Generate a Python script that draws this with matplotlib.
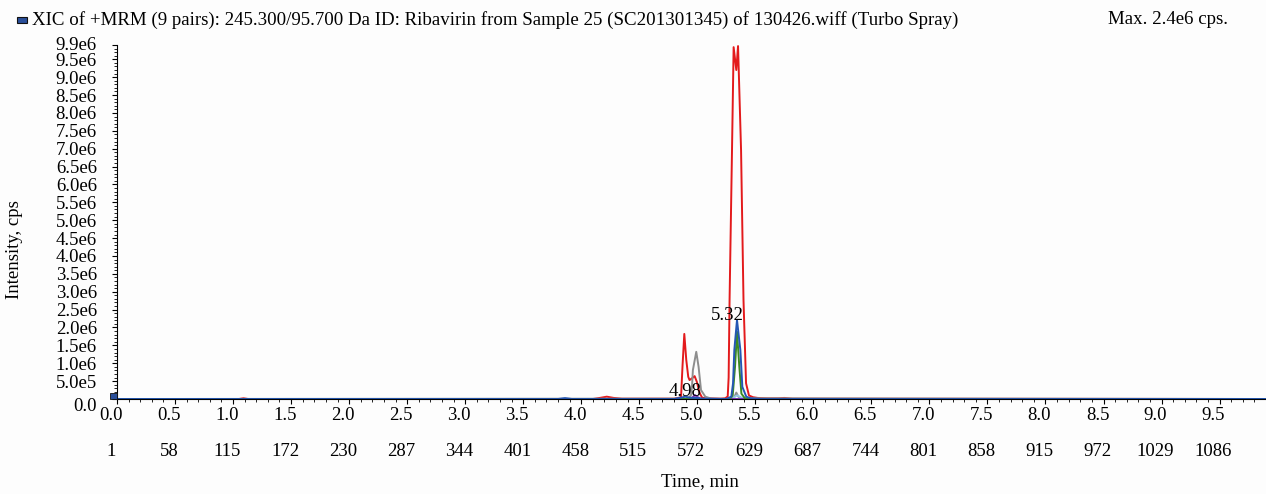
"""XIC chromatogram (Ribavirin MRM) redrawn from the instrument screenshot."""
import matplotlib
matplotlib.use("Agg")
import matplotlib.pyplot as plt
from matplotlib.patches import Rectangle
from matplotlib.ticker import FixedLocator, FixedFormatter, MultipleLocator
from matplotlib.transforms import ScaledTranslation

plt.rcParams["font.family"] = ["Liberation Serif", "DejaVu Serif"]

W, H, DPI = 1266, 494, 100
FS = 13.5
FS_TITLE = 13.6

TITLE = ("XIC of +MRM (9 pairs): 245.300/95.700 Da ID: Ribavirin from Sample 25 "
         "(SC201301345) of 130426.wiff (Turbo Spray)")
MAX_TEXT = "Max. 2.4e6 cps."

# traces: time (min), intensity (1e6 cps)
red_t = [0.0, 1.05, 1.09, 1.13, 4.10, 4.16, 4.22, 4.28, 4.35, 4.80, 4.85, 4.860, 4.873,
         4.888, 4.905, 4.922, 4.933, 4.955, 4.977, 4.996, 5.020, 5.041, 5.07, 5.20,
         5.240, 5.262, 5.270, 5.278, 5.299, 5.313, 5.336, 5.351, 5.377, 5.398, 5.420,
         5.445, 5.48, 5.52, 5.60, 5.70, 5.75, 5.82, 9.93]
red_i = [0.0, 0.0, 0.02, 0.0, 0.0, 0.03, 0.065, 0.03, 0.01, 0.01, 0.04, 0.065, 0.95,
         1.82, 1.09, 0.62, 0.53, 0.58, 0.64, 0.48, 0.17, 0.04, 0.02, 0.01,
         0.02, 0.07, 0.6, 2.77, 6.96, 9.84, 9.2, 9.87, 6.96, 2.77, 0.44,
         0.1, 0.05, 0.03, 0.02, 0.02, 0.03, 0.01, 0.0]

gray_t = [0.0, 4.92, 4.945, 4.954, 4.962, 4.991, 5.011, 5.032, 5.069, 5.12,
          5.30, 5.32, 5.336, 5.355, 5.38, 9.93]
gray_i = [0.0, 0.01, 0.1, 0.34, 0.81, 1.32, 0.90, 0.25, 0.065, 0.01,
          0.0, 0.06, 0.18, 0.06, 0.02, 0.0]

ltblue_t = [0.0, 4.95, 4.985, 5.02, 5.30, 5.33, 5.345, 5.37, 5.40, 9.93]
ltblue_i = [0.0, 0.0, 0.05, 0.0, 0.0, 0.08, 0.1, 0.06, 0.0, 0.0]

purple_t = [0.0, 4.94, 4.96, 4.98, 5.00, 5.03, 9.93]
purple_i = [0.0, 0.0, 0.05, 0.11, 0.06, 0.0, 0.0]

green_t = [0.0, 5.28, 5.305, 5.325, 5.342, 5.362, 5.38, 5.41, 5.45, 9.93]
green_i = [0.0, 0.0, 0.1, 0.9, 1.88, 0.9, 0.15, 0.02, 0.0, 0.0]

blue_t = [0.0, 3.80, 3.86, 3.92, 4.80, 4.86, 4.897, 4.93, 4.96, 5.00, 5.05, 5.25,
          5.293, 5.308, 5.319, 5.342, 5.371, 5.388, 5.422, 5.46, 5.55, 9.93]
blue_i = [0.0, 0.0, 0.025, 0.0, 0.0, 0.04, 0.065, 0.04, 0.03, 0.03, 0.01, 0.0,
          0.065, 0.44, 1.37, 2.21, 1.37, 0.34, 0.065, 0.02, 0.0, 0.0]

# peak labels: (text, time, intensity of the marked apex)
peak_labels = [("4.98", 4.98, 0.11), ("5.32", 5.342, 2.21)]

x_major = [i * 0.5 for i in range(20)]
x_labels = [f"{v:.1f}" for v in x_major]
scan_labels = ["1", "58", "115", "172", "230", "287", "344", "401", "458", "515",
               "572", "629", "687", "744", "801", "858", "915", "972", "1029", "1086"]
y_major = [i * 0.5e6 for i in range(20)] + [9.9e6]
y_labels = ["0.0", "5.0e5"] + [f"{v / 1e6:.1f}e6" for v in y_major[2:]]

fig = plt.figure(figsize=(W / DPI, H / DPI), dpi=DPI, facecolor="#fdfdfd")
ax = fig.add_axes([117 / W, (H - 399) / H, (1266 - 117) / W, (399 - 45) / H])
ax.set_facecolor("#fdfdfd")

def px(x, y):
    return ScaledTranslation(x / DPI, y / DPI, fig.dpi_scale_trans)

series = [(red_t, red_i, "#e31a1c"), (gray_t, gray_i, "#8e8e8e"),
          (ltblue_t, ltblue_i, "#93c6e6"), (purple_t, purple_i, "#7a2fb5"),
          (green_t, green_i, "#3b8a22"), (blue_t, blue_i, "#2456b4")]
for ts, ys, c in series:
    ax.plot(ts, [v * 1e6 for v in ys], color=c, lw=1.4, clip_on=False)

for txt, t, i in peak_labels:
    ax.annotate(txt, xy=(t, i * 1e6), xytext=(-10, 4), textcoords="offset pixels",
                ha="center", va="center", fontsize=FS)

ax.set_xlim(0, 9.9)
ax.set_ylim(0, 9.9e6)
for s in ("top", "right"):
    ax.spines[s].set_visible(False)
for s in ("left", "bottom"):
    ax.spines[s].set_linewidth(0.8)

ax.xaxis.set_major_locator(FixedLocator(x_major))
ax.xaxis.set_major_formatter(FixedFormatter(x_labels))
ax.xaxis.set_minor_locator(MultipleLocator(0.1))
ax.yaxis.set_major_locator(FixedLocator(y_major))
ax.yaxis.set_major_formatter(FixedFormatter(y_labels))
ax.yaxis.set_minor_locator(MultipleLocator(1e5))
ax.tick_params(axis="both", which="major", length=3.5, width=0.8, labelsize=FS)
ax.tick_params(axis="both", which="minor", length=2, width=0.6)
ax.tick_params(axis="x", pad=2)
ax.tick_params(axis="y", pad=11)

for lab in ax.get_xticklabels():
    lab.set_transform(lab.get_transform() + px(-6, 0))
ylabs = ax.get_yticklabels()
ylabs[0].set_transform(ylabs[0].get_transform() + px(0, -5))
ylabs[-1].set_transform(ylabs[-1].get_transform() + px(0, 1))

for t, s in zip(x_major, scan_labels):
    ax.annotate(s, xy=(t, 0), xycoords=("data", "axes fraction"), xytext=(-6, -52),
                textcoords="offset pixels", ha="center", va="center", fontsize=FS)

# header
fig.patches.append(Rectangle((17 / W, 1 - 23 / H), 10 / W, 6 / H, transform=fig.transFigure,
                             facecolor="#2a4f9a", edgecolor="#111111", lw=0.8))
fig.patches.append(Rectangle((110 / W, 1 - 399 / H), 7 / W, 6 / H, transform=fig.transFigure,
                             facecolor="#2a4f9a", edgecolor="#111111", lw=0.6))
fig.text(32 / W, 1 - 20 / H, TITLE, ha="left", va="center", fontsize=FS_TITLE)
fig.text(1228 / W, 1 - 20 / H, MAX_TEXT, ha="right", va="center", fontsize=FS_TITLE)
fig.text(15 / W, 1 - 250 / H, "Intensity, cps", rotation=90, ha="center", va="center",
         fontsize=FS)
fig.text(700 / W, 1 - 482 / H, "Time, min", ha="center", va="center", fontsize=FS)

fig.savefig("out.png", dpi=DPI, facecolor=fig.get_facecolor())
